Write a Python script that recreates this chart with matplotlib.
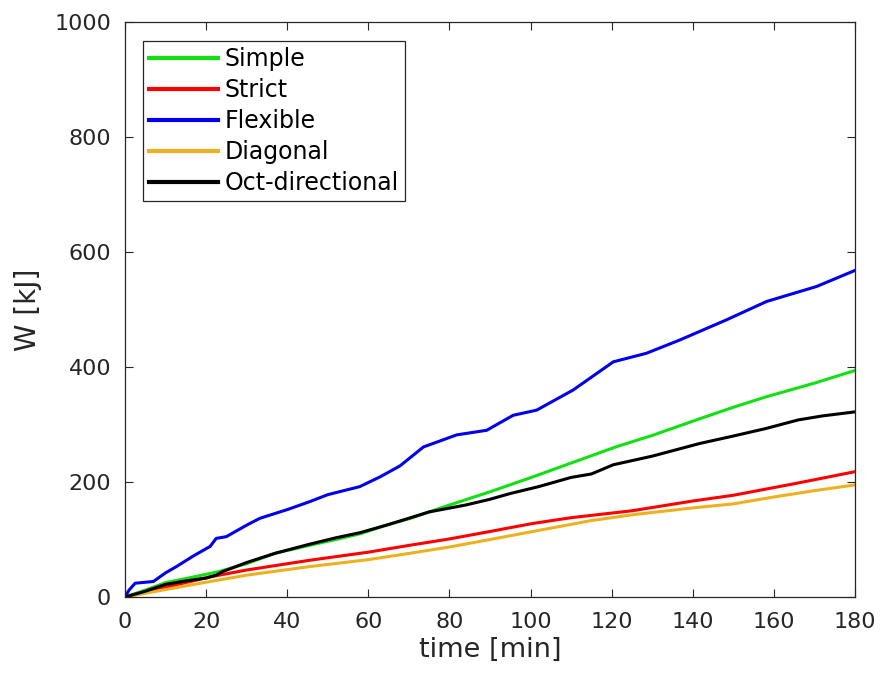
import matplotlib.pyplot as plt

plt.rcParams['font.family'] = ['DejaVu Sans']

# time [min] / W [kJ]
t_simple = [0, 5, 10, 17, 23, 30, 37, 45.6, 52, 58, 64, 70, 80, 90, 100.6, 110, 121, 130, 141.7, 150, 158, 170, 180]
w_simple = [0, 12, 25, 35, 44, 58, 76, 90, 100, 110, 124, 136, 160, 183, 209, 233, 261, 281, 310, 330, 348, 372, 394]

t_strict = [0, 10, 21, 30, 45.6, 60, 70.2, 80, 90, 100.6, 110, 125, 140, 150, 165, 180]
w_strict = [0, 17, 35, 47, 64, 78, 90, 101, 114, 128, 138, 150, 167, 177, 197, 218]

t_flex = [0, 1, 2.5, 7, 10, 12.7, 17, 21, 22.5, 25, 30, 33.3, 40, 45.6, 50, 57.9, 62.9, 67.8,
          73.6, 81.8, 89.2, 95.7, 101.5, 110.5, 120.4, 128.6, 136.8, 148.3, 158.2, 170.5, 180]
w_flex = [0, 12, 24, 27, 42, 53, 72, 88, 102, 105, 125, 137, 152, 166, 178, 192, 209, 228,
          261, 282, 290, 316, 325, 360, 409, 424, 447, 482, 514, 540, 568]

t_diag = [0, 10, 21, 30, 45.6, 60, 70.2, 80, 90, 100.6, 115, 125, 140, 150, 160, 170, 180]
w_diag = [0, 13, 27, 38, 53, 65, 76, 87, 100, 114, 133, 143, 155, 162, 174, 185, 195]

t_oct = [0, 5, 10, 15, 20, 22.5, 24, 30, 37, 45.6, 52, 58, 64, 70, 75, 84, 90, 95, 102, 110,
         115, 120.4, 130, 141.7, 150, 158, 166, 172, 180]
w_oct = [0, 10, 22, 28, 33, 38, 44, 60, 76, 92, 103, 112, 124, 137, 148, 160, 170, 180, 192, 208,
         214, 230, 245, 267, 280, 293, 308, 315, 322]

fig = plt.figure(figsize=(8.85, 6.82), dpi=100)
ax = fig.add_axes([0.1412, 0.1246, 0.8249, 0.8431])

lw = 2.2
ax.plot(t_simple, w_simple, color='#11e011', lw=lw, label='Simple')
ax.plot(t_strict, w_strict, color='#ff0000', lw=lw, label='Strict')
ax.plot(t_flex, w_flex, color='#0000ee', lw=lw, label='Flexible')
ax.plot(t_diag, w_diag, color='#edb120', lw=lw, label='Diagonal')
ax.plot(t_oct, w_oct, color='black', lw=lw, label='Oct-directional')

ax.set_xlim(0, 180)
ax.set_ylim(0, 1000)
ax.set_xticks(range(0, 181, 20))
ax.set_yticks(range(0, 1001, 200))
ax.tick_params(direction='in', length=6, width=0.8, top=True, right=True,
               labelsize=16, colors='#262626')
ax.tick_params(axis='x', pad=11)
ax.tick_params(axis='y', pad=10)
for s in ax.spines.values():
    s.set_color('#262626')
    s.set_linewidth(0.9)

ax.set_xlabel('time [min]', fontsize=19.5, color='#262626', labelpad=3)
ax.set_ylabel('W [kJ]', fontsize=20, color='#262626', labelpad=9)

leg = ax.legend(loc='upper left', bbox_to_anchor=(0.025, 0.967), fontsize=17,
                handlelength=2.9, handletextpad=0.3, labelspacing=0.3,
                borderpad=0.25, borderaxespad=0, fancybox=False, framealpha=1)
leg.get_frame().set_edgecolor('#262626')
leg.get_frame().set_linewidth(0.9)
for line in leg.get_lines():
    line.set_linewidth(3)

fig.savefig('out.png', dpi=100)
